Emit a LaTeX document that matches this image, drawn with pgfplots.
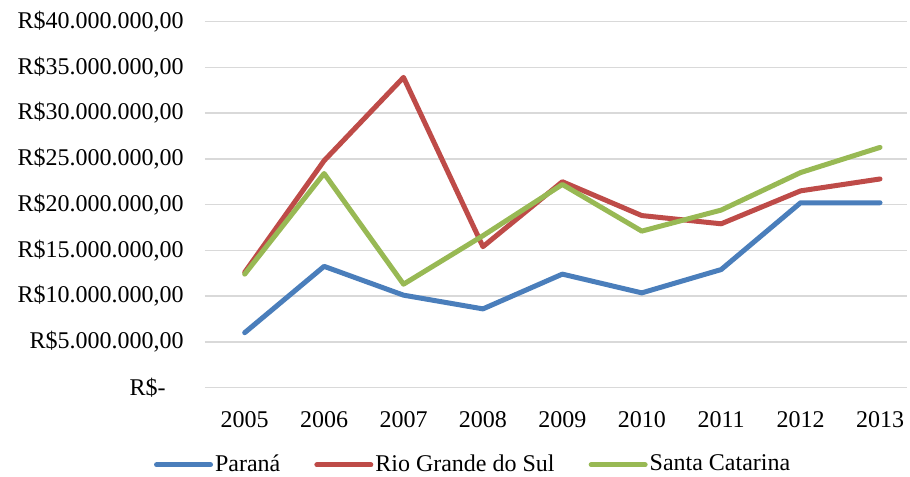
\documentclass[border=0pt]{standalone}
\usepackage{fontspec}
\setmainfont{Liberation Serif}
\usepackage{pgfplots}
\pgfplotsset{compat=1.18}
\usetikzlibrary{calc}
\definecolor{cPR}{HTML}{4A7EBB}
\definecolor{cRS}{HTML}{BE4B48}
\definecolor{cSC}{HTML}{98B954}
\begin{document}
\fontsize{12}{14}\selectfont
\begin{tikzpicture}
\begin{axis}[
  scale only axis,
  width=351pt, height=183pt,
  xmin=-0.5, xmax=8.34,
  ymin=0, ymax=40,
  clip=false,
  axis line style={draw=none},
  major tick length=0pt,
  xtick={0,...,8},
  xticklabels={2005,2006,2007,2008,2009,2010,2011,2012,2013},
  ytick={0,5,...,40},
  yticklabels={R\$-\rule{9pt}{0pt},R\$5.000.000{,}00,R\$10.000.000{,}00,R\$15.000.000{,}00,R\$20.000.000{,}00,R\$25.000.000{,}00,R\$30.000.000{,}00,R\$35.000.000{,}00,R\$40.000.000{,}00},
  ymajorgrids,
  grid style={draw=black!15, line width=0.75pt},
  yticklabel style={anchor=east, xshift=-6.5pt, font=\fontsize{12}{14}\selectfont},
  xticklabel style={yshift=-8pt, font=\fontsize{12}{14}\selectfont},
  every axis plot/.append style={line width=2.5pt, line cap=round, line join=round},
  legend columns=-1,
  legend style={at={(0.382,-0.211)}, anchor=center, draw=none, fill=none,
    font=\fontsize{12}{14}\selectfont,
    /tikz/every even column/.append style={column sep=16pt},
    nodes={inner sep=1pt}},
  legend image code/.code={\draw[#1, line cap=round] (0pt,0pt) -- (27pt,0pt);},
]
\addplot[cPR] coordinates {(0,6.0) (1,13.25) (2,10.1) (3,8.6) (4,12.4) (5,10.35) (6,12.9) (7,20.2) (8,20.2)};
\addplot[cRS] coordinates {(0,12.6) (1,24.8) (2,33.9) (3,15.4) (4,22.5) (5,18.8) (6,17.9) (7,21.5) (8,22.8)};
\addplot[cSC] coordinates {(0,12.4) (1,23.4) (2,11.3) (3,16.6) (4,22.2) (5,17.1) (6,19.4) (7,23.5) (8,26.25)};
\legend{Paraná,Rio Grande do Sul,Santa Catarina}
\end{axis}
\pgfresetboundingbox
\useasboundingbox ($(current axis.south west)+(-102.5pt,-44.6pt)$) rectangle ($(current axis.north east)+(1.5pt,10.8pt)$);
\end{tikzpicture}
\end{document}
